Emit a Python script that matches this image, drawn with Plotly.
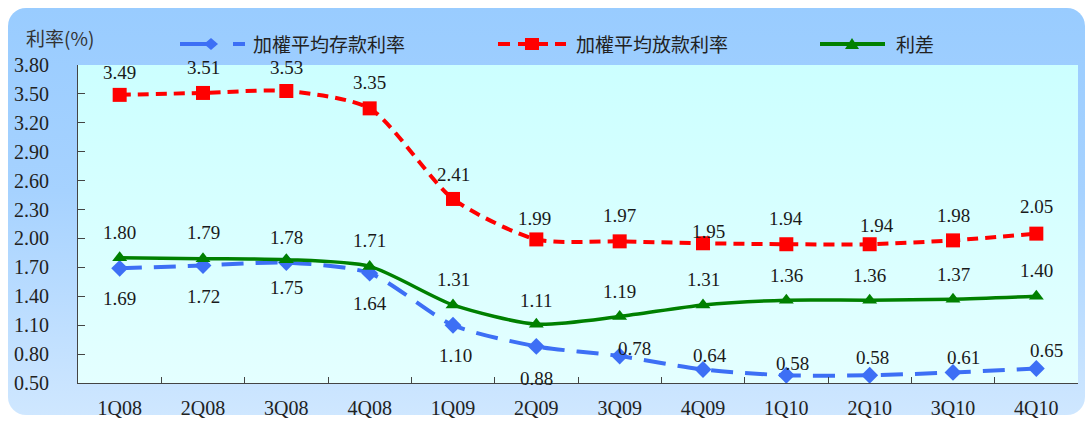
import plotly.graph_objects as go
import base64

quarters = ["1Q08", "2Q08", "3Q08", "4Q08", "1Q09", "2Q09", "3Q09", "4Q09", "1Q10", "2Q10", "3Q10", "4Q10"]
deposit_rate = [1.69, 1.72, 1.75, 1.64, 1.10, 0.88, 0.78, 0.64, 0.58, 0.58, 0.61, 0.65]
loan_rate = [3.49, 3.51, 3.53, 3.35, 2.41, 1.99, 1.97, 1.95, 1.94, 1.94, 1.98, 2.05]
spread = [1.80, 1.79, 1.78, 1.71, 1.31, 1.11, 1.19, 1.31, 1.36, 1.36, 1.37, 1.40]
y_ticks = [0.50, 0.80, 1.10, 1.40, 1.70, 2.00, 2.30, 2.60, 2.90, 3.20, 3.50, 3.80]

names = ["加權平均存款利率", "加權平均放款利率", "利差"]
axis_title = "利率(%)"

BLUE, RED, GREEN = "#3D6FF5", "#FF0000", "#008000"

# label offsets (style only), pixels
dep_shift = [(0, -30), (0, -31), (0, -25), (0, -30), (2, -30), (0, -32),
             (15, 8), (7, 14), (6, 12), (3, 18), (10, 15), (10, 18)]
loan_shift = [(0, 22), (0, 25), (0, 24), (0, 26), (0, 24), (-2, 21),
              (0, 26), (5, 12), (0, 26), (7, 19), (0, 25), (0, 27)]
spr_shift = [(0, 25), (0, 26), (0, 22), (0, 26), (0, 25), (0, 24),
             (0, 25), (0, 25), (0, 25), (0, 25), (0, 25), (0, 26)]

NUM_FONT = "Liberation Serif"
CJK_FONT = "Noto Sans CJK TC"

L, R, T, B = 78, 10, 65, 40
W, H = 1088, 423
pw, ph = W - L - R, H - T - B


def px_x(p):
    return (p - L) / pw


def px_y(p):
    return (H - B - p) / ph


fig = go.Figure()
fig.add_trace(go.Scatter(
    x=quarters, y=deposit_rate, name=names[0], mode="lines+markers", showlegend=False,
    line=dict(color=BLUE, width=4, dash="22px,12px", shape="spline", smoothing=0.7),
    marker=dict(symbol="diamond", size=13, color=BLUE)))
fig.add_trace(go.Scatter(
    x=quarters, y=loan_rate, name=names[1], mode="lines+markers", showlegend=False,
    line=dict(color=RED, width=4, dash="11px,7px", shape="spline", smoothing=0.7),
    marker=dict(symbol="square", size=14, color=RED)))
fig.add_trace(go.Scatter(
    x=quarters, y=spread, name=names[2], mode="lines+markers", showlegend=False,
    line=dict(color=GREEN, width=3.5, shape="spline", smoothing=0.7),
    marker=dict(symbol="triangle-up", size=13, color=GREEN)))

annotations = []
for series, shifts in ((deposit_rate, dep_shift), (loan_rate, loan_shift), (spread, spr_shift)):
    for q, v, (dx, dy) in zip(quarters, series, shifts):
        annotations.append(dict(
            x=q, y=v, xref="x", yref="y", text=f"{v:.2f}", showarrow=False,
            xshift=dx, yshift=dy, font=dict(family=NUM_FONT, size=19, color="#1a1a1a")))

annotations.append(dict(
    x=px_x(24), y=px_y(37), xref="paper", yref="paper", text=axis_title, showarrow=False,
    xanchor="left", yanchor="middle",
    font=dict(family=CJK_FONT, size=19, color="#333333")))

# ---- custom legend (decoration drawn in pixel space) ----
LEG_Y = 44
shapes = []


def seg(x0, x1, color, width, dash="solid"):
    shapes.append(dict(type="line", xref="paper", yref="paper",
                       x0=px_x(x0), x1=px_x(x1), y0=px_y(LEG_Y), y1=px_y(LEG_Y),
                       line=dict(color=color, width=width, dash=dash)))


def poly(pts, color):
    d = "M " + " L ".join(f"{px_x(x)},{px_y(y)}" for x, y in pts) + " Z"
    shapes.append(dict(type="path", xref="paper", yref="paper", path=d,
                       fillcolor=color, line=dict(color=color, width=0)))


# deposit
seg(180, 212, BLUE, 4)
seg(233, 245, BLUE, 4)
poly([(204, LEG_Y), (211, LEG_Y - 6), (218, LEG_Y), (211, LEG_Y + 6)], BLUE)
# loan
seg(498, 510, RED, 4)
seg(518, 548, RED, 4)
seg(555, 566, RED, 4)
poly([(525, LEG_Y - 6), (539, LEG_Y - 6), (539, LEG_Y + 6), (525, LEG_Y + 6)], RED)
# spread
seg(820, 885, GREEN, 4)
poly([(845, LEG_Y + 5), (852, LEG_Y - 6), (859, LEG_Y + 5)], GREEN)

for name, x0 in zip(names, (251, 574, 894)):
    annotations.append(dict(
        x=px_x(x0), y=px_y(LEG_Y), xref="paper", yref="paper", text=name, showarrow=False,
        xanchor="left", yanchor="middle",
        font=dict(family=CJK_FONT, size=19, color="#222222")))

# gradient backgrounds as inline svg images
outer_svg = ('<svg xmlns="http://www.w3.org/2000/svg" width="1077" height="407" viewBox="0 0 1077 407">'
             '<defs><linearGradient id="g" x1="0" y1="0" x2="0" y2="1">'
             '<stop offset="0" stop-color="#99CCFF"/><stop offset="0.45" stop-color="#A6D2FF"/>'
             '<stop offset="1" stop-color="#CFE7FF"/></linearGradient></defs>'
             '<rect x="0" y="0" width="1077" height="407" rx="18" ry="18" fill="url(#g)"/></svg>')
inner_svg = ('<svg xmlns="http://www.w3.org/2000/svg" width="1000" height="318" viewBox="0 0 1000 318" preserveAspectRatio="none">'
             '<defs><linearGradient id="h" x1="0" y1="0" x2="0" y2="1">'
             '<stop offset="0" stop-color="#CCFFFF"/><stop offset="1" stop-color="#E4FFFF"/></linearGradient></defs>'
             '<rect x="0" y="0" width="1000" height="318" fill="url(#h)"/></svg>')


def uri(s):
    return "data:image/svg+xml;base64," + base64.b64encode(s.encode()).decode()


images = [
    dict(source=uri(outer_svg), xref="paper", yref="paper", x=px_x(8), y=px_y(8),
         sizex=1077 / pw, sizey=407 / ph, xanchor="left", yanchor="top",
         sizing="stretch", layer="below"),
    dict(source=uri(inner_svg), xref="paper", yref="paper", x=0, y=1,
         sizex=1, sizey=1, xanchor="left", yanchor="top", sizing="stretch", layer="below"),
]

fig.update_layout(
    width=W, height=H,
    margin=dict(l=L, r=R, t=T, b=B, autoexpand=False),
    paper_bgcolor="white", plot_bgcolor="rgba(0,0,0,0)",
    images=images, annotations=annotations, shapes=shapes,
    showlegend=False,
    font=dict(family=NUM_FONT, color="#222222"),
)
fig.update_xaxes(
    type="category", range=[-0.5, len(quarters) - 0.5],
    showline=True, linecolor="#444444", linewidth=1.2,
    ticks="inside", tickson="boundaries", ticklen=6, tickcolor="#444444",
    showgrid=False, zeroline=False, ticklabelstandoff=7, automargin=False,
    tickfont=dict(family=NUM_FONT, size=20, color="#222222"))
fig.update_yaxes(
    range=[0.5, 3.8], tickvals=y_ticks, ticktext=[f"{v:.2f}" for v in y_ticks],
    showline=True, linecolor="#444444", linewidth=1.2,
    ticks="inside", ticklen=7, tickcolor="#444444",
    showgrid=False, zeroline=False, ticklabelstandoff=24, automargin=False,
    tickfont=dict(family=NUM_FONT, size=20, color="#222222"))

fig.write_html("out.html")
